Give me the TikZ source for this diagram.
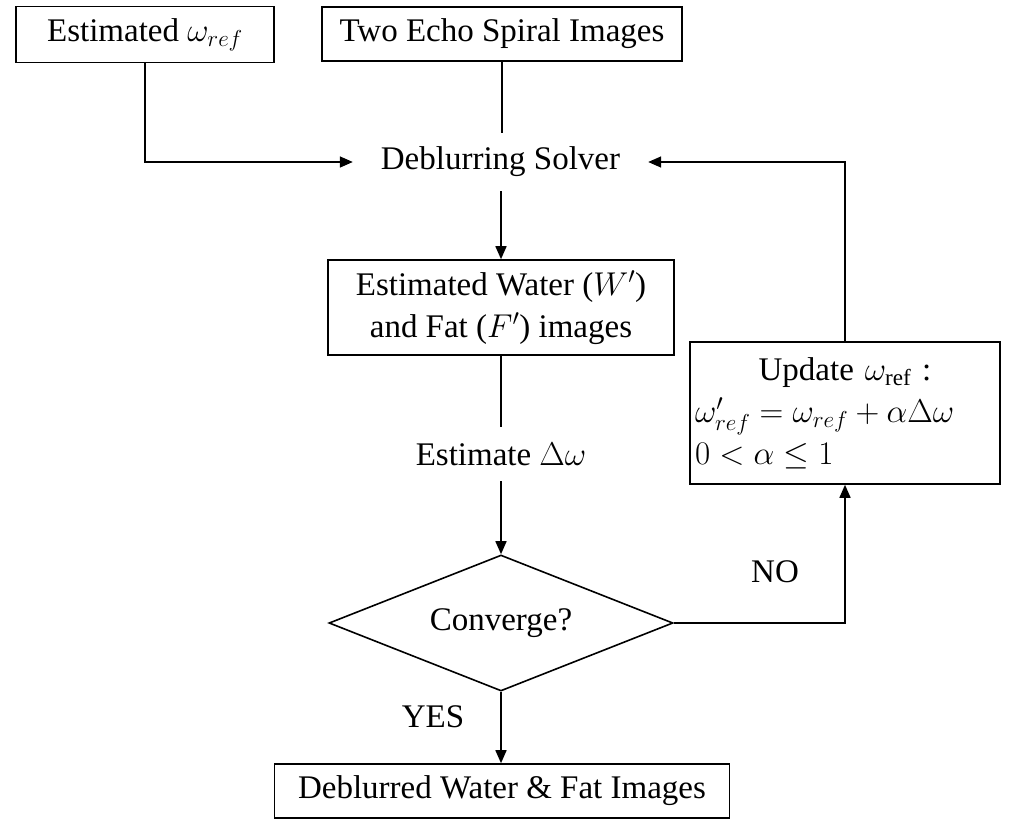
\RequirePackage{fix-cm}
\documentclass[tikz,border=0pt]{standalone}
\usepackage{fontspec}
\setmainfont{Liberation Serif}
\usetikzlibrary{arrows.meta,shapes.geometric}
\begin{document}
\begin{tikzpicture}[x=1pt,y=-1pt,
  every node/.style={font=\fontsize{33}{42}\selectfont},
  boxnode/.style={draw,line width=1.6pt,inner sep=0pt,align=center},
  plain/.style={inner sep=0pt,align=center},
  conn/.style={line width=1.6pt},
  arr/.style={line width=1.6pt,-{Triangle[length=13pt,width=11pt]}}]
\useasboundingbox (0,0) rectangle (1014,830);
\node[boxnode,minimum width=258pt,minimum height=56pt] (est) at (145,34.5) {Estimated $\omega_{ref}$};
\node[boxnode,minimum width=360pt,minimum height=54pt] (two) at (502,34) {Two Echo Spiral Images};
\node[plain,minimum width=295pt,minimum height=58pt] (solver) at (500.5,162) {Deblurring Solver};
\node[boxnode,minimum width=346pt,minimum height=95pt] (water) at (501,307.5) {Estimated Water ($W'$)\\and Fat ($F'$) images};
\node[plain,minimum height=54pt] (estd) at (501,454) {Estimate $\Delta\omega$};
\node[draw,diamond,line width=1.6pt,inner sep=0pt,aspect=2.53,minimum width=344pt,minimum height=136pt] (conv) at (501,623) {Converge?};
\node[boxnode,minimum width=455pt,minimum height=54pt] (out) at (502,791) {Deblurred Water \& Fat Images};
\node[draw,line width=1.6pt,inner xsep=5pt,inner ysep=0pt,text width=300pt,align=left,minimum height=142pt] (upd) at (845,413)
  {\makebox[300pt]{Update $\omega_{\mathrm{ref}}$ :}\\
   $\omega'_{ref}=\omega_{ref}+\alpha\Delta\omega$\\
   $0<\alpha\leq 1$};
\node[plain] (no) at (775,572) {NO};
\node[plain] (yes) at (433,717) {YES};
\draw[arr] (est.south) |- (solver.west);
\draw[conn] (two.south) -- (two.south |- solver.north);
\draw[arr] (solver.south -| water.north) -- (water.north);
\draw[conn] (water.south) -- (estd.north);
\draw[arr] (estd.south) -- (conv.north);
\draw[arr] (conv.south) -- (conv.south |- out.north);
\draw[arr] (conv.east) -| (upd.south);
\draw[arr] (upd.north) |- (solver.east);
\end{tikzpicture}
\end{document}
